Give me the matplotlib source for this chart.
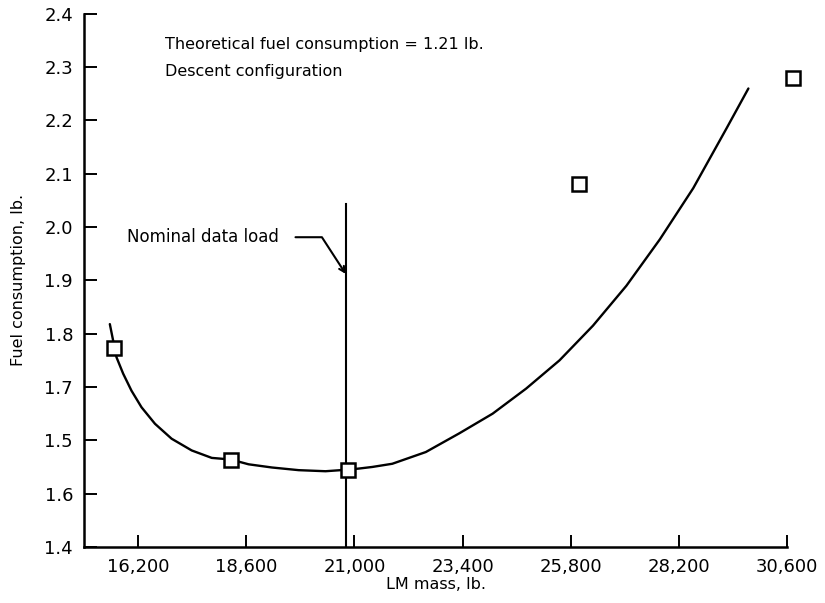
import numpy as np
import matplotlib
matplotlib.use("Agg")
import matplotlib.pyplot as plt

# Fitted curve (LM mass lb, fuel lb)
curve_mass = [15570, 15717, 15866, 16051, 16273, 16572, 16941, 17387, 17832,
              18255, 18649, 19168, 19762, 20356, 20860, 21098, 21394, 21839,
              22583, 23324, 24066, 24809, 25550, 26292, 27035, 27777, 28518,
              29262, 29742]
curve_fuel = [1.818, 1.756, 1.725, 1.693, 1.662, 1.631, 1.603, 1.581, 1.567,
              1.564, 1.555, 1.549, 1.544, 1.542, 1.545, 1.547, 1.550, 1.556,
              1.578, 1.613, 1.650, 1.697, 1.750, 1.815, 1.890, 1.977, 2.073,
              2.186, 2.260]

# Measured points (squares)
pts_mass = [15659, 18255, 20860, 25973, 30736]
pts_fuel = [1.774, 1.564, 1.545, 2.080, 2.280]

# Nominal data load line
nominal_mass = 20807
nominal_top = 2.043

x_ticks = [16200, 18600, 21000, 23400, 25800, 28200, 30600]
x_labels = ["16,200", "18,600", "21,000", "23,400", "25,800", "28,200", "30,600"]
y_ticks = [1.4, 1.5, 1.6, 1.7, 1.8, 1.9, 2.0, 2.1, 2.2, 2.3, 2.4]
# labels as printed in the original figure
y_labels = ["1.4", "1.6", "1.5", "1.7", "1.8", "1.9", "2.0", "2.1", "2.2", "2.3", "2.4"]

fig = plt.figure(figsize=(8.25, 6.03), dpi=100)
ax = fig.add_axes([0.102, 0.093, 0.852, 0.884])

ax.plot(curve_mass, curve_fuel, color="black", lw=1.7,
        solid_capstyle="round", solid_joinstyle="round")
ax.plot([nominal_mass, nominal_mass], [1.4, nominal_top], color="black", lw=1.5)
ax.plot(pts_mass, pts_fuel, linestyle="none", marker="s", markersize=10.5,
        markerfacecolor="white", markeredgecolor="black", markeredgewidth=1.8,
        clip_on=False, zorder=5)

ax.set_xlim(15000, 30600)
ax.set_ylim(1.4, 2.4)
ax.set_xticks(x_ticks)
ax.set_xticklabels(x_labels)
ax.set_yticks(y_ticks)
ax.set_yticklabels(y_labels)

for s in ["top", "right"]:
    ax.spines[s].set_visible(False)
for s in ["left", "bottom"]:
    ax.spines[s].set_linewidth(1.8)

ax.tick_params(direction="in", length=9, width=1.4, labelsize=13, pad=8)

ax.set_xlabel("LM mass, lb.", fontsize=11.5, labelpad=1)
ax.set_ylabel("Fuel consumption, lb.", fontsize=11.5, labelpad=13)

ax.text(16801, 2.342, "Theoretical fuel consumption = 1.21 lb.", fontsize=11.5,
        va="center", ha="left")
ax.text(16801, 2.292, "Descent configuration", fontsize=11.5,
        va="center", ha="left")

ax.annotate("Nominal data load", xy=(nominal_mass, 1.912), xytext=(15950, 1.981),
            fontsize=12, va="center", ha="left",
            arrowprops=dict(arrowstyle="->", color="black", lw=1.5,
                            shrinkA=10, shrinkB=0, mutation_scale=10,
                            connectionstyle="angle,angleA=0,angleB=123,rad=0"))

fig.savefig("out.png", dpi=100)
